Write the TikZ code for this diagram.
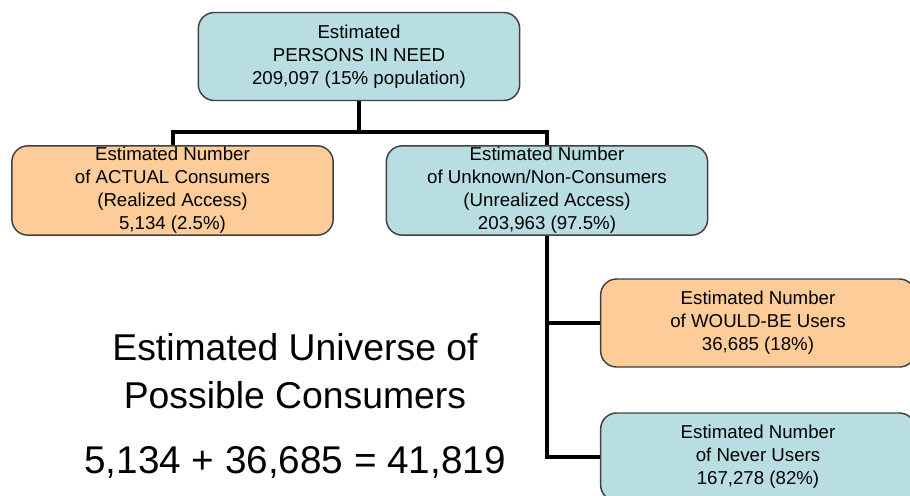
\documentclass[tikz,border=0pt]{standalone}
\usepackage{fontspec}
\setmainfont{Liberation Sans}
\usetikzlibrary{positioning}

\definecolor{boxcyan}{RGB}{184,222,225}
\definecolor{boxorange}{RGB}{253,204,153}
\definecolor{boxline}{RGB}{64,64,64}

\tikzset{every picture/.style={line width=0.75pt}}
\tikzset{
  estbox/.style={draw=boxline, line width=1.1pt, rounded corners=12pt, align=center,
    minimum width=241pt, minimum height=66pt, inner sep=0pt,
    font=\fontsize{14}{17.2}\selectfont},
  cyanbox/.style={estbox, fill=boxcyan},
  orangebox/.style={estbox, fill=boxorange},
  tree/.style={line width=3pt, draw=black}
}

\begin{document}
\begin{tikzpicture}[x=0.75pt,y=0.75pt,yscale=-1,xscale=1]
\useasboundingbox (0,0) rectangle (910,496);

%Rounded Rect [id:top]
\node [cyanbox] (need) at (359,56.5) {Estimated\\PERSONS IN NEED\\209,097 (15\% population)};
%Rounded Rect [id:actual]
\node [orangebox, minimum height=67pt] (actual) at (172.5,190.5) {Estimated Number\\of ACTUAL Consumers\\(Realized Access)\\5,134 (2.5\%)};
%Rounded Rect [id:unknown]
\node [cyanbox, minimum height=67pt] (unknown) at (547,190.5) {Estimated Number\\of Unknown/Non-Consumers\\(Unrealized Access)\\203,963 (97.5\%)};
%Rounded Rect [id:would]
\node [orangebox, minimum width=236pt] (would) at (758,323) {Estimated Number\\of WOULD-BE Users\\36,685 (18\%)};
%Rounded Rect [id:never]
\node [cyanbox, minimum width=236pt] (never) at (758,457) {Estimated Number\\of Never Users\\167,278 (82\%)};

%Straight Lines
\coordinate (bar) at (359,132);
\draw [tree] (need.south) -- (bar);
\draw [tree] (actual.north) |- (bar) -| (unknown.north);
%Straight Lines
\draw [tree] (unknown.south) -- (unknown.south |- never.west) -- (never.west);
\draw [tree] (unknown.south |- would.west) -- (would.west);

% Text Node
\node [align=center, font=\fontsize{28}{35.5}\selectfont] (universe) at (295,371) {Estimated Universe of\\Possible Consumers};
% Text Node
\node [font=\fontsize{29}{34}\selectfont] (sum) at (295,462) {5,134 + 36,685 = 41,819};

\end{tikzpicture}
\end{document}
